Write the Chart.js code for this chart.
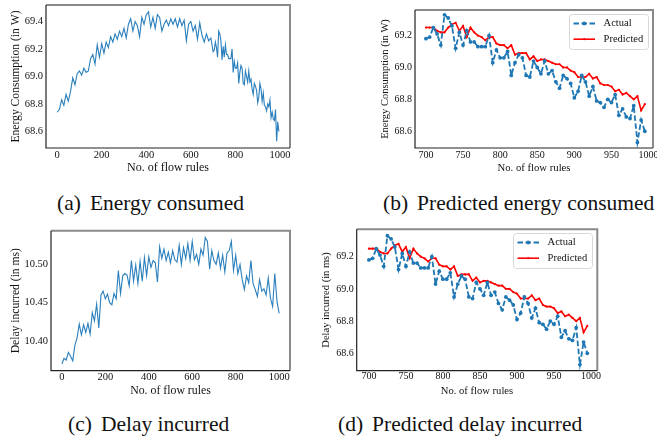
<!DOCTYPE html>
<html>
<head>
<meta charset="utf-8">
<script src="https://cdn.jsdelivr.net/npm/chart.js@4.4.0/dist/chart.umd.min.js"></script>
<style>
  body { margin: 0; background: #fff; }
  #fig { position: relative; width: 657px; height: 437px; overflow: hidden; font-family: "Liberation Serif", serif; }
  canvas { position: absolute; }
  .cap { position: absolute; font-size: 21.5px; line-height: 24px; white-space: nowrap; color: #111; }
  .cap span { margin-right: 9px; }
</style>
</head>
<body>
<div id="fig">
  <canvas id="energy" width="300" height="180" style="left:0;top:0"></canvas>
  <canvas id="energyPred" width="285" height="180" style="left:372px;top:0"></canvas>
  <canvas id="delay" width="300" height="180" style="left:0;top:222px"></canvas>
  <canvas id="delayPred" width="300" height="180" style="left:312px;top:222px"></canvas>
  <div class="cap" style="left:57px;top:191px"><span>(a)</span>Energy consumed</div>
  <div class="cap" style="left:383px;top:191px"><span>(b)</span>Predicted energy consumed</div>
  <div class="cap" style="left:68px;top:412px"><span>(c)</span>Delay incurred</div>
  <div class="cap" style="left:338px;top:412px"><span>(d)</span>Predicted delay incurred</div>
</div>
<script>
// tick labels
const flowTicksFull = [0, 200, 400, 600, 800, 1000];
const flowTicksZoom = [700, 750, 800, 850, 900, 950, 1000];
const energyTicks = [68.6, 68.8, 69.0, 69.2, 69.4];
const zoomEnergyTicks = [68.6, 68.8, 69.0, 69.2];
const delayTicks = [10.40, 10.45, 10.50];

// energy, 0..690 every 10 rules
const energyHead = [
  68.74, 68.76, 68.83, 68.79, 68.87, 68.82, 68.89, 68.99, 68.94, 69.02,
  69.04, 69.01, 69.06, 69.03, 69.04, 69.13, 69.16, 69.09, 69.23, 69.14,
  69.24, 69.17, 69.25, 69.21, 69.29, 69.25, 69.31, 69.27, 69.33, 69.29,
  69.35, 69.28, 69.38, 69.42, 69.33, 69.40, 69.37, 69.29, 69.43, 69.38,
  69.45, 69.47, 69.36, 69.43, 69.35, 69.45, 69.43, 69.33, 69.38, 69.41,
  69.37, 69.42, 69.38, 69.42, 69.36, 69.42, 69.37, 69.41, 69.26, 69.38,
  69.40, 69.33, 69.37, 69.27, 69.39, 69.30, 69.25, 69.31, 69.26, 69.28
];

// 700..995 every 5 rules
const actualEnergy = [
  69.18, 69.19, 69.25, 69.21, 69.14, 69.33, 69.31, 69.26, 69.12, 69.22,
  69.14, 69.23, 69.16, 69.16, 69.13, 69.13, 69.13, 69.20, 69.03, 69.11,
  69.06, 69.06, 69.10, 68.95, 69.03, 69.08, 69.06, 68.95, 68.94, 69.04,
  69.00, 68.96, 69.04, 68.96, 68.98, 68.91, 68.87, 68.95, 68.93, 68.90,
  68.81, 68.85, 68.95, 68.91, 68.82, 68.88, 68.79, 68.78, 68.75, 68.80,
  68.78, 68.83, 68.70, 68.74, 68.69, 68.68, 68.76, 68.53, 68.67, 68.60
];
const predictedEnergy = [
  69.25, 69.25, 69.25, 69.23, 69.22, 69.22, 69.25, 69.27, 69.28, 69.23,
  69.26, 69.19, 69.25, 69.22, 69.20, 69.19, 69.17, 69.19, 69.19, 69.15,
  69.14, 69.14, 69.12, 69.14, 69.08, 69.09, 69.09, 69.09, 69.05, 69.07,
  69.04, 69.05, 69.05, 69.04, 69.03, 69.02, 69.02, 69.00, 69.00, 68.98,
  68.97, 68.94, 68.94, 68.94, 68.96, 68.93, 68.94, 68.90, 68.89, 68.89,
  68.88, 68.85, 68.86, 68.83, 68.84, 68.82, 68.80, 68.82, 68.73, 68.77
];

// delay, 0..1000 every 10 rules
const delayValues = [
  10.370, 10.377, 10.375, 10.385, 10.380, 10.374, 10.394, 10.404, 10.422, 10.408,
  10.421, 10.411, 10.423, 10.409, 10.437, 10.426, 10.448, 10.417, 10.460, 10.465,
  10.455, 10.461, 10.450, 10.447, 10.462, 10.455, 10.492, 10.462, 10.485, 10.488,
  10.486, 10.472, 10.505, 10.478, 10.499, 10.475, 10.504, 10.478, 10.509, 10.485,
  10.510, 10.496, 10.505, 10.502, 10.477, 10.523, 10.508, 10.520, 10.505, 10.516,
  10.502, 10.518, 10.506, 10.503, 10.525, 10.500, 10.522, 10.508, 10.527, 10.505,
  10.530, 10.506, 10.513, 10.500, 10.520, 10.512, 10.535, 10.530, 10.494, 10.518,
  10.505, 10.500, 10.515, 10.495, 10.512, 10.490, 10.515, 10.518, 10.530, 10.492,
  10.512, 10.488, 10.500, 10.480, 10.467, 10.485, 10.476, 10.505, 10.475, 10.467,
  10.458, 10.480, 10.465, 10.468, 10.460, 10.482, 10.456, 10.445, 10.488, 10.452,
  10.436
];

const headRules = energyHead.map((v, i) => i * 10);
const zoomRules = actualEnergy.map((v, i) => 700 + i * 5);
const delayRules = delayValues.map((v, i) => i * 10);

function pts(xs, ys) {
  return ys.map((y, i) => ({ x: xs[i], y: y }));
}

Chart.defaults.font.family = '"Liberation Serif", serif';
Chart.defaults.color = '#111';

// matplotlib-ish frame: gray top/right, dark left/bottom
const frame = {
  id: 'frame',
  afterDatasetsDraw(chart) {
    const { ctx, chartArea: a } = chart;
    ctx.save();
    ctx.strokeStyle = '#8a8a8a';
    ctx.lineWidth = 2;
    ctx.beginPath();
    ctx.moveTo(a.left, a.top);
    ctx.lineTo(a.right, a.top);
    ctx.lineTo(a.right, a.bottom);
    ctx.stroke();
    ctx.strokeStyle = '#222';
    ctx.lineWidth = 1.2;
    ctx.beginPath();
    ctx.moveTo(a.left, a.top);
    ctx.lineTo(a.left, a.bottom);
    ctx.lineTo(a.right, a.bottom);
    ctx.stroke();
    ctx.restore();
  }
};

const boxLegend = {
  id: 'boxLegend',
  afterDatasetsDraw(chart) {
    const { ctx, chartArea } = chart;
    const w = 79, h = 35;
    const x0 = Math.round(chartArea.right - 5 - w), y0 = Math.round(chartArea.top + 4);
    ctx.save();
    ctx.fillStyle = 'rgba(255,255,255,0.85)';
    ctx.strokeStyle = '#d8d8d8';
    ctx.lineWidth = 1;
    ctx.beginPath();
    ctx.roundRect(x0 + 0.5, y0 + 0.5, w, h, 3);
    ctx.fill();
    ctx.stroke();
    chart.data.datasets.forEach((ds, i) => {
      const cy = y0 + 9.5 + i * 15.7;
      ctx.strokeStyle = ds.borderColor;
      ctx.lineWidth = ds.borderWidth;
      ctx.setLineDash(ds.borderDash || []);
      ctx.beginPath();
      ctx.moveTo(x0 + 4.5, cy);
      ctx.lineTo(x0 + 26, cy);
      ctx.stroke();
      ctx.setLineDash([]);
      ctx.fillStyle = ds.borderColor;
      ctx.beginPath();
      ctx.arc(x0 + 15.2, cy, ds.pointRadius, 0, Math.PI * 2);
      ctx.fill();
      ctx.fillStyle = '#111';
      ctx.font = '10.5px "Liberation Serif"';
      ctx.textBaseline = 'middle';
      ctx.textAlign = 'left';
      ctx.fillText(ds.label, x0 + 34.6, cy);
    });
    ctx.restore();
  }
};

function makePanel(id, p, datasets, plugins) {
  new Chart(document.getElementById(id), {
    type: 'line',
    data: { datasets: datasets },
    options: {
      responsive: false,
      animation: false,
      layout: { padding: { left: 0, top: p.padTop, right: p.padRight, bottom: 0 } },
      plugins: { legend: { display: false }, tooltip: { enabled: false } },
      scales: {
        x: {
          type: 'linear',
          min: p.xMin,
          max: p.xMax,
          grid: { display: false, drawTicks: false },
          border: { display: false },
          afterBuildTicks: s => { s.ticks = p.xTicks.map(v => ({ value: v })); },
          afterFit: s => { s.height = p.xH; s.paddingLeft = 0; s.paddingRight = 0; },
          ticks: { padding: p.xPad, font: { size: p.tickSize }, maxRotation: 0, autoSkip: false,
                   callback: v => String(v) },
          title: { display: true, text: 'No. of flow rules', font: { size: p.xTitleSize },
                   padding: { top: 0, bottom: p.xTitlePad } }
        },
        y: {
          min: p.yMin,
          max: p.yMax,
          grid: { display: false, drawTicks: false },
          border: { display: false },
          afterBuildTicks: s => { s.ticks = p.yTicks.map(v => ({ value: v })); },
          afterFit: s => { s.width = p.yW; s.paddingTop = 0; s.paddingBottom = 0; },
          ticks: { padding: 3, font: { size: p.tickSize }, callback: v => v.toFixed(p.yDec) },
          title: { display: true, text: p.yTitle, font: { size: p.yTitleSize },
                   padding: { top: p.yTitlePad, bottom: 0 } }
        }
      }
    },
    plugins: plugins
  });
}

function predSets() {
  return [
    {
      label: 'Actual',
      data: pts(zoomRules, actualEnergy),
      borderColor: '#1f77b4',
      backgroundColor: '#1f77b4',
      borderWidth: 1.8,
      borderDash: [5.5, 2.5],
      pointRadius: 1.9,
      pointBorderWidth: 0,
      tension: 0
    },
    {
      label: 'Predicted',
      data: pts(zoomRules, predictedEnergy),
      borderColor: '#ff0000',
      backgroundColor: '#ff0000',
      borderWidth: 1.6,
      pointRadius: 1.1,
      pointBorderWidth: 0,
      tension: 0
    }
  ];
}

makePanel('energy', {
  padTop: 5, padRight: 10, yW: 46, xH: 32,
  xMin: -50, xMax: 1045, xTicks: flowTicksFull, xPad: 1,
  yMin: 68.48, yMax: 69.52, yTicks: energyTicks, yDec: 1,
  tickSize: 10.5, xTitleSize: 12, xTitlePad: 4.8,
  yTitle: 'Energy Consumption (in W)', yTitleSize: 11.6, yTitlePad: 8.8
}, [{
  data: pts(headRules.concat(zoomRules), energyHead.concat(actualEnergy)),
  borderColor: '#2a7fbc',
  borderWidth: 1.1,
  pointRadius: 0,
  tension: 0
}], [frame]);

makePanel('energyPred', {
  padTop: 10, padRight: 2, yW: 43, xH: 32,
  xMin: 685.25, xMax: 1006, xTicks: flowTicksZoom, xPad: 1,
  yMin: 68.495, yMax: 69.36, yTicks: zoomEnergyTicks, yDec: 1,
  tickSize: 10, xTitleSize: 10.7, xTitlePad: 5.5,
  yTitle: 'Energy Consumption (in W)', yTitleSize: 10.5, yTitlePad: 6.7
}, predSets(), [frame, boxLegend]);

makePanel('delay', {
  padTop: 8.7, padRight: 10, yW: 51, xH: 31.3,
  xMin: -50, xMax: 1050, xTicks: flowTicksFull, xPad: 0,
  yMin: 10.361, yMax: 10.544, yTicks: delayTicks, yDec: 2,
  tickSize: 10.5, xTitleSize: 11.8, xTitlePad: 4.2,
  yTitle: 'Delay incurred (in ms)', yTitleSize: 11.6, yTitlePad: 8.7
}, [{
  data: pts(delayRules, delayValues),
  borderColor: '#2a7fbc',
  borderWidth: 1.1,
  pointRadius: 0,
  tension: 0
}], [frame]);

makePanel('delayPred', {
  padTop: 7.3, padRight: 14.7, yW: 44.7, xH: 31.3,
  xMin: 683.5, xMax: 1008.5, xTicks: flowTicksZoom, xPad: 0,
  yMin: 68.492, yMax: 69.37, yTicks: zoomEnergyTicks, yDec: 1,
  tickSize: 10, xTitleSize: 10.6, xTitlePad: 4,
  yTitle: 'Delay incurred (in ms)', yTitleSize: 10.5, yTitlePad: 7.7
}, predSets(), [frame, boxLegend]);
</script>
</body>
</html>
